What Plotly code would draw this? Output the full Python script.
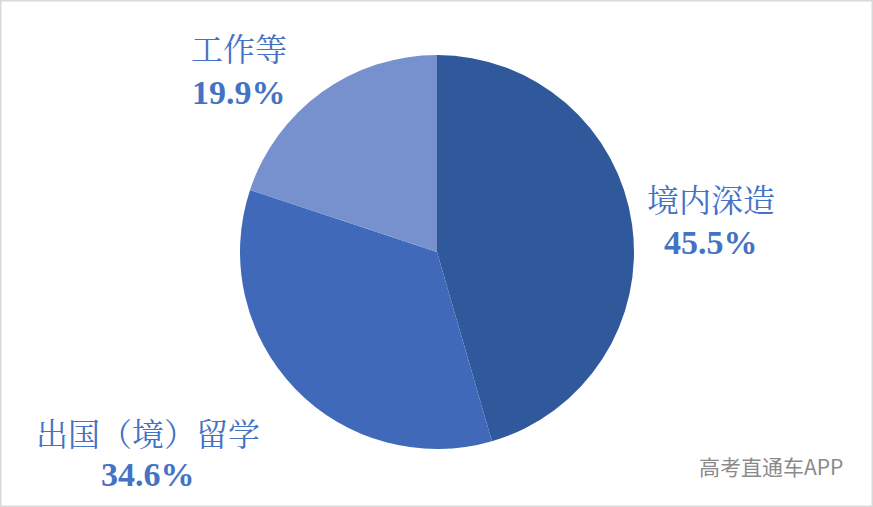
import plotly.graph_objects as go

categories = ["境内深造", "出国（境）留学", "工作等"]
values = [45.5, 34.6, 19.9]
pct_labels = ["45.5%", "34.6%", "19.9%"]
colors = ["#30599B", "#4169BA", "#7691CD"]

W, H = 873, 507
cx, cy, r = 437, 252, 197

fig = go.Figure(go.Pie(
    labels=categories, values=values, sort=False, direction="clockwise", rotation=0,
    marker=dict(colors=colors, line=dict(width=0)),
    textinfo="none", hoverinfo="label+percent", showlegend=False,
    domain=dict(x=[(cx - r) / W, (cx + r) / W], y=[(H - cy - r) / H, (H - cy + r) / H]),
))

label_pos = {"境内深造": (711, 198, 242), "出国（境）留学": (148, 432, 474), "工作等": (239, 47, 92)}
text_color = "#4472C4"
for cat, pct in zip(categories, pct_labels):
    x, y1, y2 = label_pos[cat]
    fig.add_annotation(x=x / W, y=1 - y1 / H, xref="paper", yref="paper", text=cat, showarrow=False,
                       xanchor="center", yanchor="middle",
                       font=dict(family="Noto Serif CJK SC, Noto Sans CJK SC", size=32, color=text_color))
    fig.add_annotation(x=x / W, y=1 - y2 / H, xref="paper", yref="paper", text="<b>" + pct + "</b>", showarrow=False,
                       xanchor="center", yanchor="middle",
                       font=dict(family="Liberation Serif", size=34, color=text_color))

fig.add_annotation(x=771 / W, y=1 - 466 / H, xref="paper", yref="paper", text="高考直通车APP", showarrow=False,
                   xanchor="center", yanchor="middle",
                   font=dict(family="Noto Sans CJK SC", size=21, color="#8a8a8a"))

fig.add_shape(type="rect", xref="paper", yref="paper", x0=0, y0=0, x1=1, y1=1,
              line=dict(color="#d9d9d9", width=3))

fig.update_layout(width=W, height=H, margin=dict(l=0, r=0, t=0, b=0),
                  paper_bgcolor="white", plot_bgcolor="white")
fig.write_html("out.html", config={"displayModeBar": False},
               post_script="document.body.style.margin='0px';")
